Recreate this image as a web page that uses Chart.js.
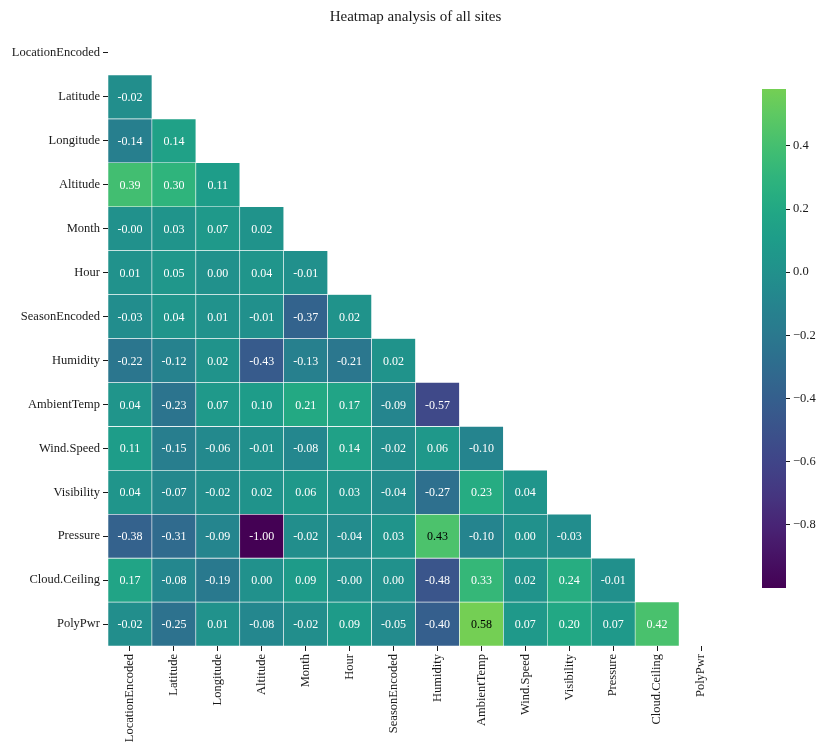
<!DOCTYPE html>
<html>
<head>
<meta charset="utf-8">
<script src="https://cdn.jsdelivr.net/npm/chart.js@4.4.0/dist/chart.umd.min.js"></script>
<style>
    body { margin: 0; background: #fff; }
    #wrap { position: relative; width: 818px; height: 746px; }
    canvas { position: absolute; top: 0; }
    #heat { left: 0; }
    #cbar { left: 740px; }
</style>
</head>
<body>
<div id="wrap">
    <canvas id="heat" width="818" height="746"></canvas>
    <canvas id="cbar" width="78" height="746"></canvas>
</div>
<script>
// variables, same order on both axes
const names = ['LocationEncoded', 'Latitude', 'Longitude', 'Altitude', 'Month', 'Hour', 'SeasonEncoded',
    'Humidity', 'AmbientTemp', 'Wind.Speed', 'Visibility', 'Pressure', 'Cloud.Ceiling', 'PolyPwr'];

// lower triangle of the correlation matrix (row i holds columns 0..i-1)
const corr = [
    [],
    [-0.02],
    [-0.14, 0.14],
    [0.39, 0.30, 0.11],
    [-0.00, 0.03, 0.07, 0.02],
    [0.01, 0.05, 0.00, 0.04, -0.01],
    [-0.03, 0.04, 0.01, -0.01, -0.37, 0.02],
    [-0.22, -0.12, 0.02, -0.43, -0.13, -0.21, 0.02],
    [0.04, -0.23, 0.07, 0.10, 0.21, 0.17, -0.09, -0.57],
    [0.11, -0.15, -0.06, -0.01, -0.08, 0.14, -0.02, 0.06, -0.10],
    [0.04, -0.07, -0.02, 0.02, 0.06, 0.03, -0.04, -0.27, 0.23, 0.04],
    [-0.38, -0.31, -0.09, -1.00, -0.02, -0.04, 0.03, 0.43, -0.10, 0.00, -0.03],
    [0.17, -0.08, -0.19, 0.00, 0.09, -0.00, 0.00, -0.48, 0.33, 0.02, 0.24, -0.01],
    [-0.02, -0.25, 0.01, -0.08, -0.02, 0.09, -0.05, -0.40, 0.58, 0.07, 0.20, 0.07, 0.42]
];

const cbarTicks = [-0.8, -0.6, -0.4, -0.2, 0.0, 0.2, 0.4];
const vmin = -1.00;
const vmax = 0.58;
const center = 0;

const FONT = "'Liberation Serif', 'Times New Roman', serif";
const TEXT = '#1a1a1a';

// viridis, sampled every 0.05
const viridis = ['#440154', '#471365', '#482475', '#453781', '#404588', '#3b528b', '#355f8d', '#2f6c8e',
    '#2a788e', '#25848e', '#21918c', '#1e9c89', '#22a884', '#2fb47c', '#44bf70', '#5ec962', '#7ad151',
    '#9bd93c', '#bddf26', '#dfe318', '#fde725'];

function hexToRgb(h) {
    return [parseInt(h.slice(1, 3), 16), parseInt(h.slice(3, 5), 16), parseInt(h.slice(5, 7), 16)];
}

function cmap(t) {
    t = Math.max(0, Math.min(1, t));
    const pos = t * (viridis.length - 1);
    const i = Math.min(Math.floor(pos), viridis.length - 2);
    const f = pos - i;
    const a = hexToRgb(viridis[i]), b = hexToRgb(viridis[i + 1]);
    return a.map((c, k) => Math.round(c + (b[k] - c) * f));
}

// seaborn style centred colormap
function rgbFor(v) {
    const vrange = Math.max(vmax - center, center - vmin);
    return cmap((v - (center - vrange)) / (2 * vrange));
}

function colorFor(v) {
    const c = rgbFor(v);
    return `rgb(${c[0]}, ${c[1]}, ${c[2]})`;
}

function textColorFor(v) {
    const lin = rgbFor(v).map(c => {
        c = c / 255;
        return c <= 0.03928 ? c / 12.92 : Math.pow((c + 0.055) / 1.055, 2.4);
    });
    const lum = 0.2126 * lin[0] + 0.7152 * lin[1] + 0.0722 * lin[2];
    return lum > 0.408 ? '#000' : '#fff';
}

function fmt(v) {
    const neg = v < 0 || Object.is(v, -0);
    return (neg ? '-' : '') + Math.abs(v).toFixed(2);
}

// one floating-bar dataset per row, spanning [i-0.5, i+0.5] on the y scale
const datasets = [];
corr.forEach((row, i) => {
    if (row.length === 0) return;
    datasets.push({
        label: names[i],
        data: names.map((_, j) => j < i ? [i - 0.5, i + 0.5] : null),
        values: names.map((_, j) => j < i ? row[j] : null),
        backgroundColor: names.map((_, j) => j < i ? colorFor(row[j]) : 'rgba(0,0,0,0)'),
        borderColor: '#ffffff',
        borderWidth: 0.6,
        borderSkipped: false,
        barPercentage: 1,
        categoryPercentage: 1
    });
});

const annotate = {
    id: 'annotate',
    afterDatasetsDraw(chart) {
        const ctx = chart.ctx;
        ctx.save();
        ctx.font = `12px ${FONT}`;
        ctx.textAlign = 'center';
        ctx.textBaseline = 'middle';
        chart.data.datasets.forEach((ds, d) => {
            chart.getDatasetMeta(d).data.forEach((el, j) => {
                const v = ds.values[j];
                if (v === null) return;
                const { x, y, base } = el.getProps(['x', 'y', 'base'], true);
                ctx.fillStyle = textColorFor(v);
                ctx.fillText(fmt(v), x, (y + base) / 2 + 1);
            });
        });
        ctx.restore();
    }
};

new Chart(document.getElementById('heat').getContext('2d'), {
    type: 'bar',
    data: { labels: names, datasets: datasets },
    plugins: [annotate],
    options: {
        responsive: false,
        animation: false,
        layout: { padding: { left: 0, right: 95, top: 0, bottom: 0 } },
        plugins: {
            legend: { display: false },
            tooltip: { enabled: false },
            title: {
                display: true,
                text: 'Heatmap analysis of all sites',
                fullSize: false,
                color: TEXT,
                font: { family: FONT, size: 15, weight: 'normal', lineHeight: 1.2 },
                padding: { top: 8, bottom: 5 }
            }
        },
        scales: {
            x: {
                stacked: true,
                offset: true,
                grid: { display: true, offset: false, drawOnChartArea: false, drawTicks: true, tickLength: 5, color: TEXT, tickWidth: 1 },
                border: { display: false },
                ticks: {
                    color: TEXT, font: { family: FONT, size: 12.5 },
                    minRotation: 90, maxRotation: 90, autoSkip: false, padding: 3
                },
                afterFit(scale) { scale.height = 100; }
            },
            y: {
                type: 'linear',
                stacked: false,
                reverse: true,
                min: -0.5,
                max: names.length - 0.5,
                grid: { display: true, drawOnChartArea: false, drawTicks: true, tickLength: 5, color: TEXT, tickWidth: 1 },
                border: { display: false },
                ticks: {
                    color: TEXT, font: { family: FONT, size: 12.5 }, padding: 3, autoSkip: false,
                    callback: (v) => names[v]
                },
                afterBuildTicks(scale) { scale.ticks = names.map((_, i) => ({ value: i })); },
                afterFit(scale) { scale.width = 108; }
            }
        }
    }
});

// colour bar: a single floating bar over the whole value range, filled with the colormap
new Chart(document.getElementById('cbar').getContext('2d'), {
    type: 'bar',
    data: {
        labels: [''],
        datasets: [{
            data: [[vmin, vmax]],
            borderWidth: 0,
            borderSkipped: false,
            barPercentage: 1,
            categoryPercentage: 1,
            backgroundColor(context) {
                const chart = context.chart;
                if (!chart.chartArea) return colorFor(0);
                const ys = chart.scales.y;
                const g = chart.ctx.createLinearGradient(0, ys.getPixelForValue(vmin), 0, ys.getPixelForValue(vmax));
                const n = 40;
                for (let k = 0; k <= n; k++) {
                    g.addColorStop(k / n, colorFor(vmin + (vmax - vmin) * k / n));
                }
                return g;
            }
        }]
    },
    options: {
        responsive: false,
        animation: false,
        layout: { padding: { left: 22, right: 0, top: 89, bottom: 158 } },
        plugins: { legend: { display: false }, tooltip: { enabled: false } },
        scales: {
            x: { display: false, offset: true },
            y: {
                position: 'right',
                min: vmin,
                max: vmax,
                grid: { display: true, drawOnChartArea: false, drawTicks: true, tickLength: 4, color: TEXT },
                border: { display: false },
                ticks: {
                    color: TEXT, font: { family: FONT, size: 12.5 }, padding: 3,
                    callback: (v) => (v < -1e-9 ? '\u2212' : '') + Math.abs(v).toFixed(1)
                },
                afterBuildTicks(scale) { scale.ticks = cbarTicks.map(v => ({ value: v })); },
                afterFit(scale) { scale.width = 32; }
            }
        }
    }
});
</script>
</body>
</html>
